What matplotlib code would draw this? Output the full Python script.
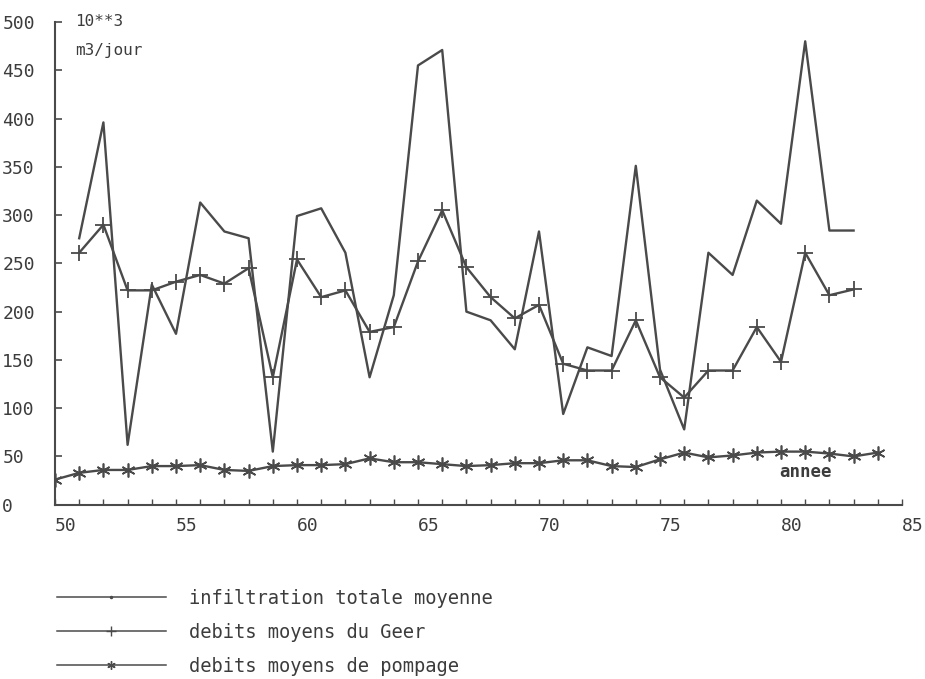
import matplotlib
matplotlib.use("Agg")
import matplotlib.pyplot as plt
from matplotlib.lines import Line2D

# ---- data ----
years_inf = list(range(51, 84))
infiltration = [276, 396, 62, 228, 177, 313, 283, 276, 55, 299, 307, 261, 132, 217,
                455, 471, 200, 191, 161, 283, 94, 163, 154, 351, 140, 78, 261, 238,
                315, 291, 480, 284, 284]
years_geer = list(range(51, 84))
geer = [261, 290, 222, 222, 231, 238, 229, 245, 132, 254, 215, 222, 179, 184, 252,
        305, 246, 215, 193, 207, 146, 139, 139, 191, 132, 111, 139, 139, 184, 148,
        261, 217, 223]
years_pomp = list(range(50, 85))
pompage = [26, 33, 36, 36, 40, 40, 41, 36, 35, 40, 41, 41, 42, 48, 44, 44, 42, 40,
           41, 43, 43, 46, 46, 40, 39, 47, 54, 49, 51, 54, 55, 55, 53, 50, 54]
labels = ["infiltration totale moyenne", "debits moyens du Geer",
          "debits moyens de pompage"]
yticks = list(range(0, 501, 50))
xticks = list(range(50, 86, 5))

col = "#4a4a4a"
txtcol = "#3c3c3c"
mono = "DejaVu Sans Mono"
ast = (6, 2, 0)

fig = plt.figure(figsize=(9.25, 6.79), dpi=100)
ax = fig.add_axes([55 / 925, 1 - 504.7 / 679, 847 / 925, (504.7 - 22) / 679])

ax.plot(years_inf, infiltration, color=col, lw=1.7)
ax.plot(years_geer, geer, color=col, lw=1.7, marker="+", ms=11, mew=1.3)
ax.plot(years_pomp, pompage, color=col, lw=1.7, marker=ast, ms=10, mew=1.2)

ax.set_xlim(50, 85)
ax.set_ylim(0, 500)
for s in ("top", "right"):
    ax.spines[s].set_visible(False)
for s in ("left", "bottom"):
    ax.spines[s].set_color(col)
    ax.spines[s].set_linewidth(1.5)

ax.set_yticks(yticks)
ax.set_yticklabels([str(v) for v in yticks])
ax.set_xticks(xticks)
ax.set_xticklabels([str(v) for v in xticks])
ax.set_xticks(range(50, 86), minor=True)
ax.tick_params(axis="y", direction="in", length=5, width=1.2, color=col, pad=38,
               labelsize=13, labelcolor=txtcol)
ax.tick_params(axis="x", which="both", direction="in", length=4, width=1.0, color=col,
               pad=9, labelsize=13, labelcolor=txtcol)
for t in ax.get_yticklabels():
    t.set_horizontalalignment("left")
    t.set_fontfamily(mono)
for t in ax.get_xticklabels():
    t.set_horizontalalignment("left")
    t.set_fontfamily(mono)

ax.text(81, 34, "annee", ha="center", va="center", fontsize=12.5, color=txtcol,
        family=mono, fontweight="bold")
fig.text(75 / 925, 1 - 22 / 679, "10**3", ha="left", va="center", fontsize=11.5,
         color=txtcol, family=mono)
fig.text(75 / 925, 1 - 50 / 679, "m3/jour", ha="left", va="center", fontsize=11.5,
         color=txtcol, family=mono)

handles = [
    Line2D([], [], color=col, lw=1.1, marker=".", ms=3),
    Line2D([], [], color=col, lw=1.1, marker="+", ms=7, mew=1.0),
    Line2D([], [], color=col, lw=1.1, marker=ast, ms=6, mew=1.0),
]
leg = fig.legend(handles, labels, loc="upper left",
                 bbox_to_anchor=(57 / 925, 1 - 589 / 679), frameon=False,
                 prop={"family": mono, "size": 13.5}, handlelength=5.8,
                 handletextpad=1.25, labelspacing=0.8, borderaxespad=0,
                 borderpad=0)
for t in leg.get_texts():
    t.set_color(txtcol)

fig.savefig("out.png", dpi=100, facecolor="white")
